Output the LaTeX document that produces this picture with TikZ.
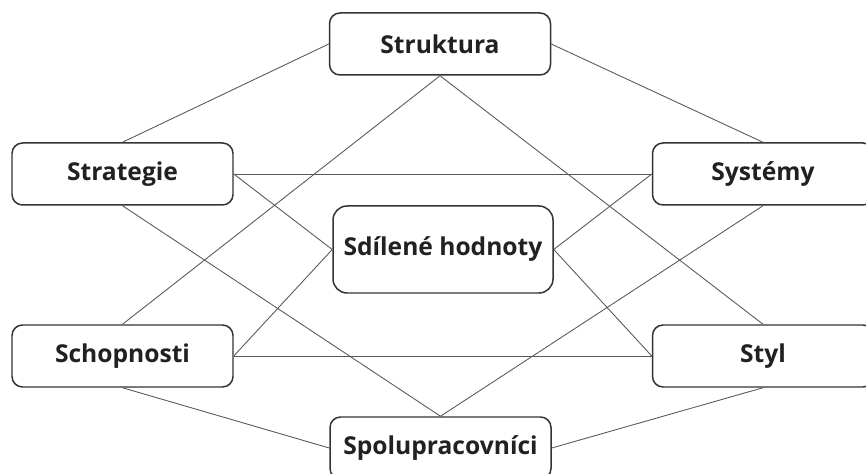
\documentclass[tikz,border=0pt]{standalone}
\usepackage{fontspec}
\setmainfont{Open Sans}
\usetikzlibrary{positioning}

\begin{document}
\begin{tikzpicture}[x=1cm, y=1cm,
    % --- Styles ---
    roundBox/.style={
      draw=black!80,
      line width=0.85pt,
      rectangle,
      rounded corners=6pt,
      fill=white,
      text=black!87,
      font=\fontsize{14}{17}\selectfont\bfseries,
      minimum width=4.42cm,
      minimum height=1.24cm,
      align=center
    },
    centreBox/.style={
      roundBox,
      rounded corners=8pt,
      minimum width=4.4cm,
      minimum height=1.74cm
    },
    linkLine/.style={
      draw=black!65,
      line width=0.5pt
    }
]

% frame of the picture (boxes on the edges are cut off)
\clip (0,0) rectangle (17.32,-9.48);

%=====================
% Boxes
%=====================
\node[roundBox] (boxStruct) at (8.80,-0.88) {Struktura};
\node[roundBox] (boxStrat) at (2.45,-3.48) {Strategie};
\node[roundBox] (boxSyst) at (15.26,-3.48) {Systémy};
\node[centreBox] (boxShared) at (8.86,-4.99) {Sdílené hodnoty};
\node[roundBox] (boxSkill) at (2.45,-7.12) {Schopnosti};
\node[roundBox] (boxStyle) at (15.26,-7.12) {Styl};
\node[roundBox] (boxStaff) at (8.81,-8.96) {Spolupracovníci};

%=====================
% Links
%=====================
\draw[linkLine] (boxStruct.west) -- (boxStrat.north);
\draw[linkLine] (boxStruct.east) -- (boxSyst.north);
\draw[linkLine] (boxStruct.south) -- (boxSkill.north);
\draw[linkLine] (boxStruct.south) -- (boxStyle.north);
\draw[linkLine] (boxStrat.east) -- (boxSyst.west);
\draw[linkLine] (boxStrat.east) -- (boxShared.west);
\draw[linkLine] (boxStrat.south) -- (boxStaff.north);
\draw[linkLine] (boxSkill.east) -- (boxStyle.west);
\draw[linkLine] (boxSkill.east) -- (boxShared.west);
\draw[linkLine] (boxSkill.south) -- (boxStaff.west);
\draw[linkLine] (boxShared.east) -- (boxSyst.west);
\draw[linkLine] (boxShared.east) -- (boxStyle.west);
\draw[linkLine] (boxStaff.north) -- (boxSyst.south);
\draw[linkLine] (boxStaff.east) -- (boxStyle.south);

\end{tikzpicture}
\end{document}
